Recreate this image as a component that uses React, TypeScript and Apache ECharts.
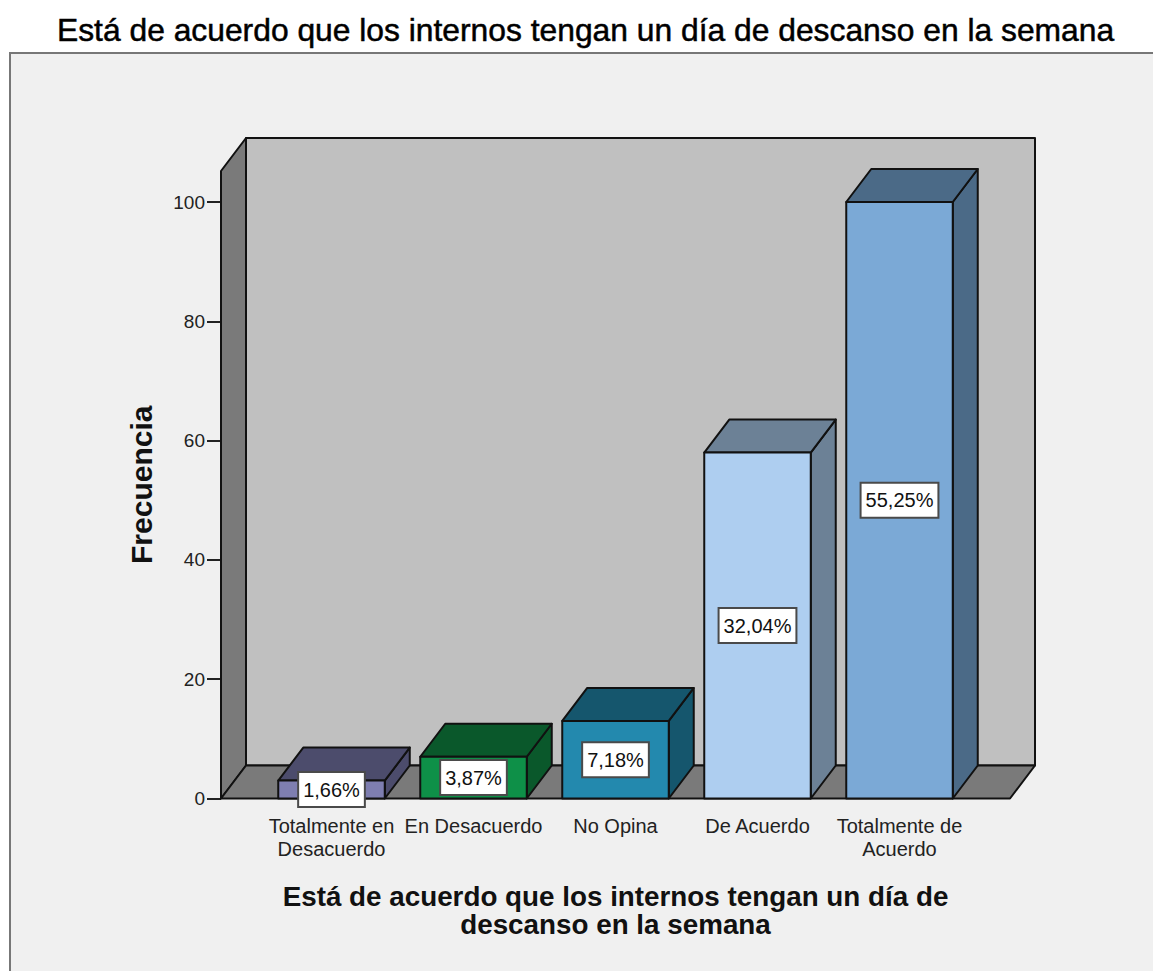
import React, { useEffect, useRef } from "react";
import * as echarts from "echarts";

const titleText = "Está de acuerdo que los internos tengan un día de descanso en la semana";
const xAxisTitle = "Está de acuerdo que los internos tengan un día de\ndescanso en la semana";
const yAxisTitle = "Frecuencia";
const categories = ["Totalmente en\nDesacuerdo", "En Desacuerdo", "No Opina", "De Acuerdo", "Totalmente de\nAcuerdo"];
const frequencies = [3, 7, 13, 58, 100];
const percentLabels = ["1,66%", "3,87%", "7,18%", "32,04%", "55,25%"];
const faceColors = ["#7e7eb0", "#0e9048", "#2389ae", "#aecef0", "#7ba9d6"];
const shadeColors = ["#4c4c6c", "#0a582b", "#15566d", "#6c8196", "#4b6a87"];
const yTicks = [0, 20, 40, 60, 80, 100];

const DEPTH_X = 25;
const DEPTH_Y = 33;
const SIDE_PAD = 39.5;
const EDGE = "#111";

function renderWalls(params: any, api: any) {
  const cs = params.coordSys;
  const left = cs.x - SIDE_PAD;
  const right = cs.x + cs.width + SIDE_PAD;
  const bottom = cs.y + cs.height;
  const top = cs.y;
  const style = { fill: "#7a7a7a", stroke: EDGE, lineWidth: 2, lineJoin: "round" };
  return {
    type: "group",
    children: [
      {
        type: "polygon",
        shape: { points: [[left + DEPTH_X, top - DEPTH_Y], [right + DEPTH_X, top - DEPTH_Y], [right + DEPTH_X, bottom - DEPTH_Y], [left + DEPTH_X, bottom - DEPTH_Y]] },
        style: { ...style, fill: "#c0c0c0" },
      },
      {
        type: "polygon",
        shape: { points: [[left, top], [left + DEPTH_X, top - DEPTH_Y], [left + DEPTH_X, bottom - DEPTH_Y], [left, bottom]] },
        style,
      },
      {
        type: "polygon",
        shape: { points: [[left, bottom], [left + DEPTH_X, bottom - DEPTH_Y], [right + DEPTH_X, bottom - DEPTH_Y], [right, bottom]] },
        style,
      },
    ],
  };
}

function renderBar(params: any, api: any) {
  const i = api.value(0);
  const v = api.value(1);
  const [cx, yTop] = api.coord([i, v]);
  const [, yBase] = api.coord([i, 0]);
  const w = api.size([1, 0])[0] * 0.75;
  const l = cx - w / 2;
  const r = cx + w / 2;
  const edge = { stroke: EDGE, lineWidth: 2, lineJoin: "round" };
  return {
    type: "group",
    children: [
      {
        type: "polygon",
        shape: { points: [[r, yTop], [r + DEPTH_X, yTop - DEPTH_Y], [r + DEPTH_X, yBase - DEPTH_Y], [r, yBase]] },
        style: { fill: shadeColors[i], ...edge },
      },
      {
        type: "polygon",
        shape: { points: [[l, yTop], [l + DEPTH_X, yTop - DEPTH_Y], [r + DEPTH_X, yTop - DEPTH_Y], [r, yTop]] },
        style: { fill: shadeColors[i], ...edge },
      },
      {
        type: "rect",
        shape: { x: l, y: yTop, width: w, height: yBase - yTop },
        style: { fill: faceColors[i], ...edge },
      },
      {
        type: "text",
        x: cx,
        y: (yTop + yBase) / 2,
        z2: 10,
        style: {
          text: percentLabels[i],
          align: "center",
          verticalAlign: "middle",
          fontFamily: "Liberation Sans",
          fontSize: 20,
          fill: "#111",
          backgroundColor: "#fff",
          borderColor: "#4a4a4a",
          borderWidth: 2,
          padding: [7, 4, 6, 4],
        },
      },
    ],
  };
}

export default function App() {
  const ref = useRef<HTMLDivElement>(null);
  useEffect(() => {
    const chart = echarts.init(ref.current!, null, { renderer: "svg" });
    chart.setOption({
      animation: false,
      backgroundColor: "#ffffff",
      title: {
        text: titleText,
        left: 52,
        top: 9,
        textStyle: { fontFamily: "Liberation Sans", fontSize: 31.8, fontWeight: "normal", color: "#000", textBorderColor: "#000", textBorderWidth: 0.5 },
      },
      graphic: [
        {
          type: "rect",
          z: -1,
          shape: { x: 10, y: 53, width: 1170, height: 940 },
          style: { fill: "#f0f0f0", stroke: "#777", lineWidth: 2 },
        },
      ],
      grid: { left: 260.5, right: 1153 - 970.5, top: 171, bottom: 971 - 798.5 },
      xAxis: {
        type: "category",
        data: categories,
        name: xAxisTitle,
        nameLocation: "middle",
        nameGap: 84,
        nameTextStyle: { fontFamily: "Liberation Sans", fontWeight: "bold", fontSize: 27.8, lineHeight: 28, color: "#111" },
        axisLine: { show: false },
        axisTick: { alignWithLabel: true, length: 14, lineStyle: { color: "#222", width: 2 } },
        axisLabel: { interval: 0, margin: 16, fontFamily: "Liberation Sans", fontSize: 20, lineHeight: 23, color: "#222" },
      },
      yAxis: {
        type: "value",
        min: 0,
        max: 105.2,
        offset: SIDE_PAD,
        name: yAxisTitle,
        nameLocation: "middle",
        nameGap: 65,
        nameTextStyle: { fontFamily: "Liberation Sans", fontWeight: "bold", fontSize: 30, color: "#111" },
        splitLine: { show: false },
        axisLine: { show: false },
        axisTick: { show: true, length: 14, customValues: yTicks, lineStyle: { color: "#222", width: 2 } },
        axisLabel: { margin: 16, customValues: yTicks, fontFamily: "Liberation Sans", fontSize: 19, color: "#222" },
      },
      series: [
        {
          type: "custom",
          z: 1,
          clip: false,
          silent: true,
          renderItem: renderWalls,
          data: [[0, 0]],
          encode: { x: 0, y: 1 },
        },
        {
          type: "custom",
          z: 3,
          clip: false,
          silent: true,
          renderItem: renderBar,
          data: frequencies.map((v, i) => [i, v]),
          encode: { x: 0, y: 1 },
        },
      ],
    });
    return () => chart.dispose();
  }, []);
  return <div ref={ref} style={{ position: "fixed", left: 0, top: 0, width: 1153, height: 971 }} />;
}
